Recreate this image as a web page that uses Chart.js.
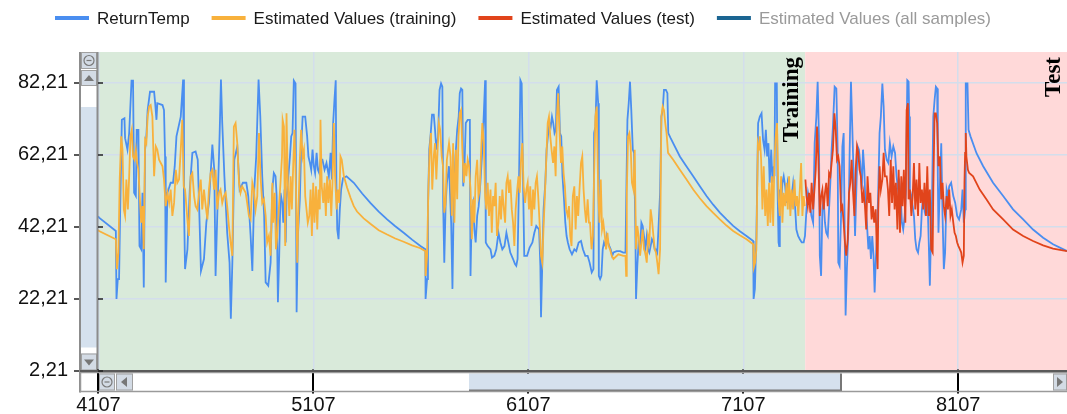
<!DOCTYPE html>
<html>
<head>
<meta charset="utf-8">
<script src="https://cdn.jsdelivr.net/npm/chart.js@4.4.1/dist/chart.umd.min.js"></script>
<style>
  html, body { margin: 0; padding: 0; background: #fff; }
</style>
</head>
<body>
<canvas id="chart" width="1067" height="414"></canvas>
<script>
// sample index / value pairs
const returnTemp = [
  [4105,45.1],[4110,44.7],[4188,41.0],[4191,22.1],[4197,27.6],[4203,27.6],[4208,46.1],[4216,71.9],[4228,72.3],[4231,66.8],
  [4242,63.6],[4250,68.2],[4261,82.8],[4268,82.8],[4273,51.6],[4281,50.7],[4285,69.1],[4293,69.1],[4298,36.8],[4306,35.9],
  [4312,51.6],[4318,25.3],[4324,63.6],[4330,67.3],[4336,74.6],[4347,79.7],[4366,79.7],[4371,76.5],[4377,71.9],[4381,76.5],
  [4405,76.0],[4412,74.6],[4417,61.7],[4420,26.7],[4428,51.6],[4443,54.4],[4454,54.4],[4462,59.0],[4470,67.3],[4490,72.8],
  [4501,83.1],[4505,48.8],[4510,30.4],[4521,35.9],[4532,52.5],[4544,62.7],[4559,63.1],[4569,60.8],[4575,48.8],[4584,29.9],
  [4598,33.2],[4609,43.3],[4621,48.8],[4637,65.0],[4646,58.0],[4652,28.5],[4662,49.8],[4671,68.2],[4677,83.1],[4683,71.0],
  [4693,56.2],[4706,40.5],[4717,32.2],[4723,16.6],[4730,32.2],[4739,60.8],[4753,64.5],[4764,52.5],[4779,54.4],[4795,54.4],
  [4804,50.7],[4815,39.6],[4823,29.9],[4832,52.5],[4841,61.7],[4852,83.1],[4860,72.8],[4869,56.2],[4878,45.2],[4885,26.7],
  [4897,25.8],[4908,32.2],[4916,52.5],[4923,57.1],[4931,56.2],[4936,50.7],[4942,21.2],[4948,34.1],[4954,51.6],[4962,48.8],
  [4967,43.3],[4973,52.5],[4978,37.8],[4982,49.8],[4988,54.4],[4998,61.7],[5004,67.3],[5010,68.2],[5016,82.8],[5024,82.0],
  [5029,18.4],[5035,39.6],[5044,49.8],[5050,63.6],[5057,72.8],[5069,72.8],[5078,67.3],[5084,61.7],[5091,59.9],[5097,58.0],
  [5103,63.6],[5109,59.0],[5115,57.1],[5122,62.7],[5128,58.0],[5134,57.1],[5140,60.8],[5149,60.8],[5159,58.0],[5168,59.9],
  [5179,56.2],[5187,62.7],[5193,55.3],[5199,71.0],[5205,77.4],[5211,82.9],[5214,54.4],[5218,41.4],[5224,38.7],[5230,47.0],
  [5236,52.5],[5245,55.7],[5261,56.2],[5295,54.4],[5334,51.4],[5372,48.8],[5411,46.4],[5450,44.2],[5488,42.3],[5527,40.5],
  [5566,38.6],[5605,36.8],[5628,35.9],[5629,22.1],[5636,27.6],[5640,47.0],[5646,63.6],[5653,68.2],[5659,73.3],[5667,73.3],
  [5673,69.1],[5679,63.6],[5687,67.3],[5694,80.2],[5701,82.0],[5707,81.1],[5711,47.9],[5716,32.2],[5722,47.9],[5728,54.4],
  [5738,59.0],[5748,43.3],[5754,24.9],[5760,49.8],[5768,61.7],[5776,69.1],[5783,72.8],[5788,79.3],[5794,80.6],[5800,80.2],
  [5804,53.4],[5810,59.0],[5816,71.0],[5825,71.9],[5835,71.9],[5838,28.5],[5844,47.0],[5850,48.8],[5856,41.4],[5862,37.8],
  [5869,45.2],[5876,47.9],[5884,54.4],[5892,62.7],[5900,73.7],[5906,82.9],[5909,37.8],[5918,36.8],[5931,35.9],[5938,33.6],
  [5949,34.1],[5958,35.9],[5968,40.5],[5977,37.8],[5986,35.9],[5996,36.8],[6005,40.5],[6014,37.8],[6023,35.0],[6036,33.2],
  [6045,31.8],[6051,31.3],[6057,33.2],[6064,56.2],[6070,82.9],[6076,82.0],[6082,56.2],[6088,34.1],[6101,34.1],[6113,36.4],
  [6126,37.8],[6135,40.5],[6144,42.4],[6157,41.4],[6163,31.3],[6166,17.0],[6172,32.2],[6178,47.0],[6186,54.4],[6192,63.6],
  [6198,67.3],[6205,71.0],[6211,70.0],[6217,72.8],[6223,71.0],[6229,68.2],[6235,69.1],[6240,80.2],[6248,81.1],[6254,68.2],
  [6260,67.3],[6266,56.2],[6273,49.8],[6279,43.3],[6285,39.6],[6291,37.8],[6299,35.9],[6310,34.5],[6321,35.9],[6330,35.4],
  [6341,37.8],[6352,38.2],[6361,35.9],[6372,34.1],[6383,34.1],[6392,32.2],[6402,29.5],[6410,30.4],[6413,68.2],[6419,70.0],
  [6425,82.9],[6432,76.5],[6435,28.5],[6441,27.6],[6447,28.5],[6453,35.9],[6459,37.8],[6466,36.8],[6472,39.6],[6478,37.8],
  [6484,36.8],[6490,35.9],[6497,34.1],[6503,35.0],[6518,35.4],[6534,35.4],[6549,35.0],[6559,35.0],[6562,47.9],[6568,71.9],
  [6574,76.5],[6580,82.5],[6586,74.6],[6593,63.6],[6599,62.7],[6605,41.4],[6608,22.1],[6614,31.3],[6620,37.8],[6627,35.9],
  [6633,43.3],[6639,42.4],[6645,39.6],[6651,35.9],[6658,39.6],[6664,35.9],[6670,35.0],[6676,36.8],[6682,38.7],[6689,37.8],
  [6695,35.9],[6701,35.9],[6707,35.0],[6713,42.4],[6720,51.6],[6726,72.8],[6732,74.6],[6738,80.2],[6747,80.2],[6754,79.3],
  [6758,68.2],[6769,66.8],[6812,61.7],[6843,58.9],[6874,56.2],[6905,53.4],[6936,50.7],[6967,48.3],[6998,46.1],[7029,44.2],
  [7060,42.4],[7091,40.9],[7122,39.6],[7153,38.2],[7155,22.1],[7161,24.9],[7168,39.6],[7176,71.0],[7184,72.8],[7192,73.7],
  [7199,66.3],[7206,63.6],[7212,69.1],[7218,61.7],[7224,65.4],[7230,54.4],[7237,63.6],[7243,54.4],[7249,59.0],[7252,56.2],
  [7255,82.0],[7263,82.0],[7266,54.4],[7271,37.8],[7274,36.8],[7277,52.5],[7283,48.8],[7289,54.4],[7295,56.2],[7302,53.4],
  [7308,48.8],[7314,54.4],[7320,52.5],[7326,47.0],[7332,50.7],[7339,54.4],[7346,49.8],[7354,41.4],[7362,39.6],[7370,38.7],
  [7379,37.8],[7388,37.8],[7394,39.6],[7401,47.0],[7408,51.6],[7416,48.8],[7424,45.2],[7432,43.3],[7439,65.4],[7447,72.8],
  [7453,82.5],[7459,67.3],[7463,34.1],[7469,28.5],[7475,47.0],[7481,49.8],[7487,43.3],[7493,40.5],[7500,39.6],[7506,47.0],
  [7512,54.4],[7518,63.6],[7524,70.0],[7532,81.1],[7540,80.6],[7546,63.6],[7549,32.2],[7555,31.3],[7562,45.2],[7568,64.5],
  [7574,68.2],[7580,34.1],[7583,17.5],[7589,30.4],[7596,41.4],[7602,63.6],[7608,82.5],[7614,70.0],[7620,57.1],[7627,39.6],
  [7633,52.5],[7639,64.5],[7645,63.6],[7651,59.9],[7658,52.5],[7664,63.6],[7670,58.0],[7676,47.9],[7682,43.3],[7689,35.9],
  [7695,39.6],[7701,33.2],[7707,39.6],[7713,34.1],[7718,23.9],[7723,32.2],[7729,39.6],[7735,52.5],[7741,68.2],[7747,72.8],
  [7754,82.0],[7760,75.6],[7766,63.6],[7774,60.8],[7782,59.9],[7789,65.4],[7797,61.7],[7805,64.5],[7813,62.7],[7820,56.2],
  [7827,52.5],[7833,54.4],[7839,50.7],[7845,43.3],[7851,41.4],[7858,45.2],[7864,52.5],[7870,82.9],[7876,82.5],[7879,72.8],
  [7882,52.5],[7889,50.7],[7895,47.9],[7901,45.2],[7907,38.7],[7913,35.9],[7920,35.0],[7926,37.8],[7932,39.6],[7938,47.0],
  [7944,50.7],[7950,47.0],[7957,49.8],[7963,52.5],[7969,39.6],[7975,25.8],[7978,34.1],[7985,49.8],[7991,72.8],[7997,77.4],
  [8003,81.1],[8009,80.6],[8012,56.2],[8015,40.5],[8022,54.4],[8028,65.4],[8034,45.2],[8040,30.4],[8046,35.0],[8053,52.5],
  [8059,50.7],[8065,53.4],[8074,54.4],[8084,50.7],[8093,48.8],[8102,45.2],[8111,44.2],[8121,47.0],[8127,52.5],[8133,43.3],
  [8139,47.0],[8142,82.0],[8150,82.0],[8155,69.1],[8164,67.3],[8192,62.6],[8223,59.0],[8269,54.4],[8316,50.7],[8362,47.0],
  [8409,44.2],[8455,41.4],[8502,39.1],[8548,37.3],[8613,35.4]
];

const estimatedTraining = [
  [4105,41.3],[4110,41.0],[4188,38.7],[4193,30.4],[4200,35.0],[4206,55.3],[4213,67.3],[4219,63.6],[4225,47.0],[4231,45.2],
  [4237,55.3],[4244,47.0],[4250,56.2],[4256,67.3],[4262,69.1],[4268,61.7],[4275,60.8],[4281,63.6],[4287,59.9],[4293,58.0],
  [4299,50.7],[4306,43.3],[4312,47.9],[4318,35.9],[4324,66.3],[4330,65.4],[4336,72.8],[4343,75.6],[4350,76.0],[4358,72.8],
  [4366,56.2],[4374,64.5],[4381,63.6],[4389,60.8],[4397,59.9],[4405,59.0],[4412,55.3],[4420,47.9],[4428,51.6],[4436,48.8],
  [4443,52.5],[4451,45.2],[4459,48.8],[4467,58.0],[4474,54.4],[4482,55.3],[4490,63.6],[4497,71.9],[4504,53.4],[4510,52.5],
  [4516,47.9],[4522,43.3],[4528,39.6],[4536,56.2],[4544,57.1],[4552,50.7],[4559,47.9],[4567,47.0],[4575,51.6],[4583,55.3],
  [4590,47.0],[4598,52.5],[4606,47.9],[4614,44.2],[4621,52.5],[4629,57.1],[4637,58.0],[4645,52.5],[4652,58.0],[4660,47.0],
  [4668,51.6],[4675,52.5],[4683,48.8],[4691,50.7],[4699,51.6],[4706,47.9],[4714,42.4],[4722,37.8],[4730,34.1],[4737,70.0],
  [4745,71.0],[4753,65.4],[4761,54.4],[4768,51.6],[4776,53.4],[4784,52.5],[4792,51.6],[4799,48.8],[4807,45.2],[4815,44.2],
  [4823,54.4],[4830,52.5],[4838,47.0],[4846,50.7],[4854,68.2],[4861,56.2],[4869,48.8],[4877,49.8],[4885,45.2],[4892,37.8],
  [4900,39.6],[4908,34.1],[4916,54.4],[4920,43.3],[4927,51.6],[4933,35.9],[4939,39.6],[4947,47.9],[4954,54.4],[4961,61.7],
  [4964,71.9],[4970,70.0],[4976,36.8],[4982,73.7],[4988,54.4],[4995,45.2],[5001,56.2],[5007,47.0],[5013,59.0],[5019,69.1],
  [5026,52.5],[5032,32.2],[5038,47.9],[5044,60.8],[5050,69.1],[5057,61.7],[5063,63.6],[5069,50.7],[5075,47.0],[5081,43.3],
  [5088,45.2],[5094,52.5],[5100,39.6],[5106,54.4],[5112,43.3],[5119,53.4],[5125,41.4],[5131,52.5],[5137,47.0],[5140,71.9],
  [5146,53.4],[5153,48.8],[5159,54.4],[5165,45.2],[5171,56.2],[5177,48.8],[5184,55.3],[5190,45.2],[5196,54.4],[5202,71.0],
  [5208,56.2],[5215,47.0],[5221,52.5],[5227,48.8],[5233,61.7],[5239,60.8],[5249,56.2],[5264,53.0],[5280,50.2],[5295,47.9],
  [5310,46.4],[5341,44.5],[5372,43.0],[5411,41.2],[5450,40.0],[5488,38.9],[5527,38.0],[5566,37.0],[5605,36.2],[5628,35.4],
  [5629,28.5],[5636,34.1],[5642,52.5],[5648,63.6],[5654,68.2],[5660,52.5],[5667,61.7],[5673,65.4],[5679,55.3],[5685,63.6],
  [5691,71.0],[5697,69.1],[5704,61.7],[5710,59.0],[5716,46.1],[5722,48.8],[5728,60.8],[5738,65.4],[5745,61.7],[5751,45.2],
  [5757,65.4],[5763,43.3],[5770,63.6],[5776,49.8],[5782,67.3],[5788,73.7],[5794,74.6],[5800,63.6],[5807,54.4],[5813,59.9],
  [5819,56.2],[5825,60.8],[5831,59.0],[5838,52.5],[5844,38.7],[5850,49.8],[5856,43.3],[5862,56.2],[5869,60.8],[5875,50.7],
  [5881,52.5],[5887,62.7],[5893,71.0],[5900,65.4],[5906,50.7],[5912,47.0],[5918,54.4],[5924,45.2],[5931,52.5],[5937,40.5],
  [5943,50.7],[5949,47.9],[5955,54.4],[5961,39.6],[5968,43.3],[5974,50.7],[5980,44.2],[5986,52.5],[5992,47.9],[5999,43.3],
  [6005,54.4],[6011,56.2],[6017,51.6],[6023,55.3],[6030,47.0],[6036,43.3],[6042,36.8],[6048,47.0],[6054,51.6],[6061,56.2],
  [6067,51.6],[6073,60.8],[6079,65.4],[6085,53.4],[6092,48.8],[6098,52.5],[6104,54.4],[6110,47.0],[6116,53.4],[6122,42.4],
  [6129,52.5],[6135,47.0],[6141,54.4],[6147,56.2],[6153,50.7],[6160,42.4],[6166,34.1],[6172,32.2],[6178,42.4],[6184,50.7],
  [6191,61.7],[6197,71.0],[6203,72.8],[6209,67.3],[6215,63.6],[6222,59.9],[6228,64.5],[6234,56.2],[6240,72.8],[6246,79.3],
  [6253,67.3],[6259,59.9],[6265,64.5],[6271,57.1],[6277,53.4],[6283,47.0],[6290,45.2],[6296,47.9],[6302,39.6],[6308,36.8],
  [6314,50.7],[6321,53.4],[6327,41.4],[6333,50.7],[6339,45.2],[6345,52.5],[6352,59.9],[6358,61.7],[6364,52.5],[6370,47.0],
  [6376,43.3],[6383,49.8],[6389,43.3],[6394,43.3],[6401,35.9],[6407,39.6],[6413,56.2],[6419,72.8],[6425,75.6],[6432,51.6],
  [6438,43.3],[6444,55.3],[6450,41.4],[6456,43.3],[6463,39.6],[6469,35.9],[6475,40.5],[6481,36.8],[6487,35.9],[6495,34.1],
  [6503,33.2],[6526,34.5],[6549,34.1],[6559,34.1],[6562,28.5],[6565,51.6],[6571,67.3],[6577,68.2],[6583,64.5],[6589,54.4],
  [6596,52.5],[6602,63.6],[6608,35.9],[6614,42.4],[6620,39.6],[6627,34.1],[6633,37.8],[6639,41.4],[6645,35.9],[6651,35.0],
  [6658,32.2],[6664,39.6],[6670,37.8],[6676,47.0],[6682,44.2],[6689,39.6],[6695,35.9],[6701,35.0],[6707,32.2],[6713,29.0],
  [6720,35.9],[6726,72.8],[6732,75.6],[6738,74.6],[6744,71.0],[6750,68.2],[6757,62.7],[6781,60.8],[6812,58.0],[6843,55.3],
  [6874,52.5],[6905,50.1],[6936,47.9],[6967,46.0],[6998,44.2],[7029,42.5],[7060,41.0],[7091,39.8],[7122,38.7],[7153,37.3],
  [7156,30.9],[7162,32.2],[7168,35.9],[7175,65.4],[7181,63.6],[7184,67.3],[7190,60.8],[7196,47.0],[7202,59.0],[7209,45.2],
  [7215,52.5],[7221,42.4],[7227,54.4],[7233,43.3],[7240,56.2],[7246,42.4],[7252,60.8],[7258,67.3],[7264,71.0],[7271,49.8],
  [7277,45.2],[7283,56.2],[7289,43.3],[7295,51.6],[7302,47.9],[7308,54.4],[7314,47.0],[7320,56.2],[7326,45.2],[7332,52.5],
  [7339,47.0],[7345,55.3],[7351,47.9],[7357,50.7],[7363,45.2],[7370,52.5],[7376,59.9],[7382,45.2],[7388,50.7],[7393,47.9]
];

const estimatedTest = [
  [7396,55.3],[7401,50.7],[7407,47.9],[7413,51.6],[7419,46.1],[7425,54.4],[7432,47.0],[7438,52.5],[7444,58.0],[7450,70.0],
  [7456,61.7],[7463,45.2],[7469,50.7],[7475,52.5],[7481,47.0],[7487,51.6],[7493,54.4],[7500,47.9],[7506,57.1],[7512,56.2],
  [7518,59.9],[7524,63.6],[7531,73.7],[7537,69.1],[7543,60.8],[7549,61.7],[7555,59.0],[7562,47.0],[7568,47.9],[7574,43.3],
  [7580,37.8],[7586,34.1],[7593,38.7],[7599,51.6],[7605,54.4],[7611,60.8],[7617,52.5],[7624,45.2],[7630,58.0],[7636,64.5],
  [7642,62.7],[7648,58.0],[7654,56.2],[7661,48.8],[7667,51.6],[7673,47.9],[7679,41.4],[7685,56.2],[7692,48.8],[7698,51.6],
  [7704,44.2],[7710,47.9],[7716,43.3],[7723,47.0],[7729,34.1],[7732,30.4],[7735,47.0],[7741,59.0],[7747,52.5],[7754,55.3],
  [7760,62.7],[7766,56.2],[7774,56.2],[7780,52.5],[7786,45.2],[7793,60.8],[7799,48.8],[7805,59.0],[7811,47.0],[7817,54.4],
  [7824,41.4],[7830,58.0],[7836,40.5],[7842,56.2],[7848,47.9],[7854,58.0],[7861,43.3],[7867,74.6],[7873,76.5],[7876,49.8],
  [7882,52.5],[7889,45.2],[7895,50.7],[7901,59.9],[7907,47.0],[7913,55.3],[7920,45.2],[7926,59.9],[7932,48.8],[7938,52.5],
  [7944,47.0],[7950,54.4],[7957,45.2],[7963,59.0],[7969,45.2],[7975,52.5],[7981,35.9],[7988,35.0],[7991,52.5],[7997,73.7],
  [8003,73.7],[8009,71.0],[8015,59.0],[8022,61.7],[8028,49.8],[8034,54.4],[8040,47.9],[8046,45.2],[8053,50.7],[8059,47.0],
  [8065,52.5],[8071,45.2],[8077,47.0],[8084,43.3],[8090,40.5],[8096,39.6],[8102,37.8],[8108,36.8],[8115,35.9],[8121,35.0],
  [8127,32.2],[8133,34.1],[8136,54.4],[8139,62.7],[8142,68.2],[8145,61.7],[8152,58.0],[8158,57.1],[8176,56.2],[8207,52.5],
  [8238,49.8],[8269,47.0],[8316,44.2],[8362,41.4],[8409,39.6],[8455,38.2],[8502,37.0],[8548,36.1],[8613,35.4]
];

const xTicks = [4107, 5107, 6107, 7107, 8107];
const yTicks = [2.21, 22.21, 42.21, 62.21, 82.21];
const xRange = [4105, 8613];
const yRange = [2.21, 90.75];
// partitions: label, first sample, last sample
const partitions = [['Training', 4105, 7395], ['Test', 7395, 8613]];
const partitionColors = ['#d9eada', '#ffd9d9'];

const toPoints = arr => arr.map(([x, y]) => ({x: x, y: y}));

// paints partition backgrounds and their labels
const partitionPlugin = {
  id: 'partitions',
  beforeDraw(chart) {
    const {ctx, chartArea: a, scales: {x}} = chart;
    ctx.save();
    partitions.forEach((p, i) => {
      const x0 = Math.max(a.left, x.getPixelForValue(p[1]));
      const x1 = Math.min(a.right, x.getPixelForValue(p[2]));
      ctx.fillStyle = partitionColors[i];
      ctx.fillRect(x0, a.top, x1 - x0, a.bottom - a.top);
    });
    ctx.restore();
  },
  afterDatasetsDraw(chart) {
    const {ctx, chartArea: a, scales: {x}} = chart;
    ctx.save();
    ctx.font = 'bold 23px "Liberation Serif", "Times New Roman", serif';
    ctx.fillStyle = '#000';
    ctx.textAlign = 'right';
    ctx.textBaseline = 'alphabetic';
    for (const p of partitions) {
      const px = Math.min(a.right, x.getPixelForValue(p[2])) - 7;
      ctx.save();
      ctx.translate(px, a.top + 5);
      ctx.rotate(-Math.PI / 2);
      ctx.fillText(p[0], 0, 0);
      ctx.restore();
    }
    ctx.restore();
  }
};

function drawButton(ctx, x, y, w, h) {
  ctx.fillStyle = '#d3dbe5';
  ctx.fillRect(x, y, w, h);
  ctx.strokeStyle = '#a0a0a0';
  ctx.lineWidth = 1;
  ctx.strokeRect(x + 0.5, y + 0.5, w - 1, h - 1);
}

function drawArrow(ctx, cx, cy, dir) {
  ctx.fillStyle = '#777';
  ctx.beginPath();
  if (dir === 'up') { ctx.moveTo(cx - 5, cy + 3); ctx.lineTo(cx + 5, cy + 3); ctx.lineTo(cx, cy - 3); }
  if (dir === 'down') { ctx.moveTo(cx - 5, cy - 3); ctx.lineTo(cx + 5, cy - 3); ctx.lineTo(cx, cy + 3); }
  if (dir === 'left') { ctx.moveTo(cx + 3, cy - 5); ctx.lineTo(cx + 3, cy + 5); ctx.lineTo(cx - 3, cy); }
  if (dir === 'right') { ctx.moveTo(cx - 3, cy - 5); ctx.lineTo(cx - 3, cy + 5); ctx.lineTo(cx + 3, cy); }
  ctx.closePath();
  ctx.fill();
}

function drawZoomReset(ctx, cx, cy) {
  ctx.strokeStyle = '#7a7a7a';
  ctx.lineWidth = 1.2;
  ctx.beginPath();
  ctx.arc(cx, cy, 5, 0, Math.PI * 2);
  ctx.stroke();
  ctx.beginPath();
  ctx.moveTo(cx - 2.5, cy);
  ctx.lineTo(cx + 2.5, cy);
  ctx.stroke();
}

// scrollbars around the plot, drawn the way the original viewer shows them
const scrollbarPlugin = {
  id: 'scrollbars',
  afterDraw(chart) {
    const {ctx, chartArea: a, scales: {x, y}} = chart;
    ctx.save();
    // vertical bar
    const vx = a.left - 18;
    ctx.fillStyle = '#fff';
    ctx.fillRect(vx, a.top, 18, a.bottom - a.top);
    ctx.fillStyle = '#d5e1ee';
    ctx.fillRect(vx + 1, a.top + 55, 16, a.bottom - a.top - 78);
    drawButton(ctx, vx + 1, a.top, 16, 17);
    drawZoomReset(ctx, vx + 9, a.top + 8.5);
    drawButton(ctx, vx + 1, a.top + 18, 16, 16);
    drawArrow(ctx, vx + 9, a.top + 26, 'up');
    drawButton(ctx, vx + 1, a.bottom - 17, 16, 17);
    drawArrow(ctx, vx + 9, a.bottom - 8, 'down');
    ctx.strokeStyle = '#8c8c8c';
    ctx.lineWidth = 2;
    ctx.beginPath();
    ctx.moveTo(vx, a.top); ctx.lineTo(vx, a.bottom + 22);
    ctx.moveTo(a.left - 0.5, a.top); ctx.lineTo(a.left - 0.5, a.bottom);
    ctx.stroke();

    // horizontal bar
    const hy = a.bottom + 1;
    ctx.fillStyle = '#fff';
    ctx.fillRect(vx, hy, a.right - vx, 20);
    ctx.strokeStyle = '#000';
    ctx.lineWidth = 2;
    for (const t of xTicks) {
      const px = Math.round(x.getPixelForValue(t));
      ctx.beginPath();
      ctx.moveTo(px, a.bottom - 1); ctx.lineTo(px, hy + 22);
      ctx.stroke();
    }
    ctx.fillStyle = '#d5e1ee';
    ctx.fillRect(469, hy + 2, 372, 17);
    ctx.strokeStyle = '#777';
    ctx.lineWidth = 2;
    ctx.beginPath();
    ctx.moveTo(469, hy + 19); ctx.lineTo(841, hy + 19); ctx.lineTo(841, hy + 2);
    ctx.stroke();
    drawButton(ctx, a.left + 1, hy + 2, 16, 17);
    drawZoomReset(ctx, a.left + 9, hy + 10.5);
    drawButton(ctx, a.left + 18, hy + 2, 17, 17);
    drawArrow(ctx, a.left + 26, hy + 10.5, 'left');
    drawButton(ctx, a.right - 14, hy + 2, 14, 17);
    drawArrow(ctx, a.right - 7, hy + 10.5, 'right');
    ctx.strokeStyle = '#9a9a9a';
    ctx.lineWidth = 1.5;
    ctx.strokeRect(vx + 0.5, hy + 1, a.right - vx, 19);
    ctx.strokeStyle = '#5a5a5a';
    ctx.lineWidth = 2;
    ctx.beginPath();
    ctx.moveTo(vx, a.bottom + 0.5); ctx.lineTo(a.right, a.bottom + 0.5);
    ctx.stroke();

    // small y tick marks
    ctx.strokeStyle = '#222';
    ctx.lineWidth = 1.5;
    for (const t of yTicks) {
      const py = Math.round(y.getPixelForValue(t));
      ctx.beginPath();
      ctx.moveTo(vx - 6, py); ctx.lineTo(vx - 1, py);
      ctx.moveTo(a.left, py); ctx.lineTo(a.left + 5, py);
      ctx.stroke();
    }
    ctx.restore();
  }
};

// legend drawn as one centred row, hidden series greyed out
const legendPlugin = {
  id: 'lineLegend',
  afterDraw(chart) {
    const ctx = chart.ctx;
    ctx.save();
    ctx.font = '17px "Liberation Sans", Arial, sans-serif';
    ctx.textBaseline = 'middle';
    const sets = chart.data.datasets;
    const widths = sets.map(ds => 34 + 8 + ctx.measureText(ds.label).width);
    const total = widths.reduce((s, w) => s + w, 0) + 22 * (sets.length - 1);
    let cx = 523 - total / 2;
    sets.forEach((ds, i) => {
      ctx.fillStyle = ds.borderColor;
      ctx.fillRect(cx, 16, 34, 4);
      ctx.fillStyle = ds.hidden ? '#9a9a9a' : '#1a1a1a';
      ctx.fillText(ds.label, cx + 42, 19);
      cx += widths[i] + 22;
    });
    ctx.restore();
  }
};

const axisFont = {family: '"Liberation Sans", Arial, sans-serif', size: 20};

new Chart(document.getElementById('chart'), {
  type: 'line',
  data: {
    datasets: [
      {label: 'ReturnTemp', data: toPoints(returnTemp), borderColor: '#4a8ef0', order: 3},
      {label: 'Estimated Values (training)', data: toPoints(estimatedTraining), borderColor: '#f8b13c', order: 2},
      {label: 'Estimated Values (test)', data: toPoints(estimatedTest), borderColor: '#e1441b', order: 1},
      {label: 'Estimated Values (all samples)', data: toPoints(estimatedTraining.concat(estimatedTest)),
       borderColor: '#1b6592', hidden: true, order: 4}
    ]
  },
  options: {
    responsive: false,
    animation: false,
    elements: {
      line: {borderWidth: 1.8, tension: 0},
      point: {radius: 0}
    },
    layout: {padding: {top: 52, left: 0, right: 0, bottom: 0}},
    plugins: {
      legend: {display: false},
      tooltip: {enabled: false}
    },
    scales: {
      x: {
        type: 'linear',
        min: xRange[0],
        max: xRange[1],
        afterBuildTicks: s => { s.ticks = xTicks.map(v => ({value: v})); },
        afterFit: s => { s.height = 43.5; },
        ticks: {
          font: axisFont, color: '#111', padding: 23, maxRotation: 0,
          callback: v => String(v)
        },
        grid: {color: '#d3deec', lineWidth: 1.5, drawTicks: false},
        border: {display: false}
      },
      y: {
        min: yRange[0],
        max: yRange[1],
        afterBuildTicks: s => { s.ticks = yTicks.map(v => ({value: v})); },
        afterFit: s => { s.width = 98; },
        ticks: {
          font: axisFont, color: '#111', padding: 30,
          callback: v => v.toFixed(2).replace('.', ',')
        },
        grid: {color: '#d3deec', lineWidth: 1.5, drawTicks: false},
        border: {display: false}
      }
    }
  },
  plugins: [partitionPlugin, scrollbarPlugin, legendPlugin]
});
</script>
</body>
</html>
